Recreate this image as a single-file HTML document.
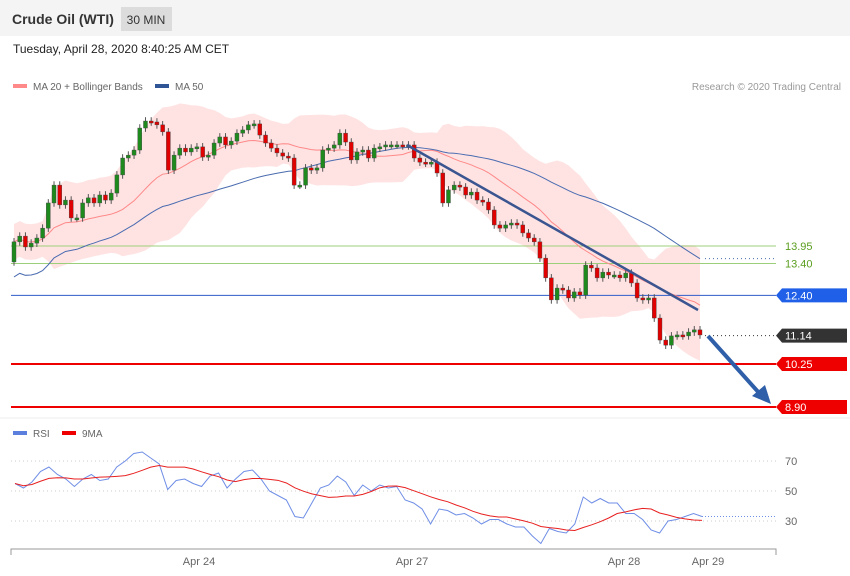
<!DOCTYPE html>
<html><head><meta charset="utf-8"><style>
body{margin:0;background:#fff;font-family:"Liberation Sans",sans-serif}
#wrap{position:relative;width:850px;height:576px;overflow:hidden}
</style></head><body>
<div id="wrap">
<svg id="svg" width="850" height="576" xmlns="http://www.w3.org/2000/svg">
<rect x="0" y="0" width="850" height="36" fill="#f4f4f4"/>
<text x="12" y="24" font-size="14" font-weight="bold" fill="#333">Crude Oil (WTI)</text>
<rect x="121" y="7" width="51" height="24" fill="#dcdcdc"/>
<text x="146" y="24" font-size="12" fill="#333" text-anchor="middle">30 MIN</text>
<text x="13" y="53" font-size="12" fill="#222">Tuesday, April 28, 2020 8:40:25 AM CET</text>
<rect x="13" y="84" width="14" height="4" fill="#f88"/>
<text x="33" y="90" font-size="10" fill="#666">MA 20 + Bollinger Bands</text>
<rect x="155" y="84" width="14" height="4" fill="#2f5597"/>
<text x="175" y="90" font-size="10" fill="#666">MA 50</text>
<text x="841" y="90" font-size="10" fill="#999" text-anchor="end">Research © 2020 Trading Central</text>
<line x1="0" y1="418" x2="850" y2="418" stroke="#eee"/>
<g id="main"></g>
<rect x="13" y="431" width="14" height="4" fill="#5b7fdc"/>
<text x="33" y="437" font-size="10" fill="#666">RSI</text>
<rect x="62" y="431" width="14" height="4" fill="#e00"/>
<text x="82" y="437" font-size="10" fill="#666">9MA</text>
<g id="rsi"></g>
</svg>
</div>
<script>
const closes=[242,236,247,243,238,228,203,185,205,200,218,218,203,198,203,195,200,193,175,158,155,150,128,121,122,125,132,170,155,148,152,148,147,157,155,143,137,145,141,133,130,125,124,135,143,148,153,156,158,185,185,168,170,168,150,148,145,133,142,160,152,150,158,148,147,145,145,145,146,145,158,162,163,162,173,203,190,185,187,195,192,200,202,210,225,228,225,223,225,233,238,242,258,278,300,288,290,298,292,295,265,268,278,272,275,275,278,273,283,298,300,298,318,340,345,336,335,336,332,330,335].map(y=>+(13.95-(y-246)/31.88).toFixed(2));
const firstOpen=[13.45];
const levels=[13.95,13.40,12.40,11.14,10.25,8.90];
const levelLabels=["13.95","13.40","12.40","11.14","10.25","8.90"];
const rsiValues=[55,52,56,63,66,61,58,53,58,61,57,58,66,70,75,76,72,68,51,57,58,55,53,60,62,52,58,63,64,58,50,47,44,33,32,42,52,54,60,56,47,54,50,54,52,53,44,42,38,28,38,37,34,35,32,28,31,31,28,26,26,20,15,25,23,22,28,46,42,45,42,42,35,35,31,24,22,30,31,33,35,33];
const rsiTicks=[70,50,30];
const dateLabels=["Apr 24","Apr 27","Apr 28","Apr 29"];

const NS="http://www.w3.org/2000/svg";
const py=p=>246+(13.95-p)*31.88;
const x0=14,x1=700,n=closes.length;
const cx=i=>x0+i*(x1-x0)/(n-1);
const ry=v=>491-(v-50)*1.5;
function mk(tag,attrs,parent){const e=document.createElementNS(NS,tag);for(const k in attrs)e.setAttribute(k,attrs[k]);parent.appendChild(e);return e;}
const main=document.getElementById('main'),rg=document.getElementById('rsi');

const ma=(w,i)=>{const s=closes.slice(Math.max(0,i-w+1),i+1);return s.reduce((a,b)=>a+b,0)/s.length;};
const sd=(w,i)=>{const s=closes.slice(Math.max(0,i-w+1),i+1);const m=s.reduce((a,b)=>a+b,0)/s.length;return Math.sqrt(s.reduce((a,b)=>a+(b-m)*(b-m),0)/s.length);};
let up=[],dn=[],m20=[],m50=[];
for(let i=0;i<n;i++){const m=ma(20,i),s=Math.max(sd(20,i),0.28);m20.push(m);up.push(m+2*s);dn.push(m-2*s);m50.push(ma(50,i)-(i<50?(50-i)/50*1.1:0));}
let bb="M"+up.map((v,i)=>cx(i)+","+py(v)).join("L")+"L"+dn.map((v,i)=>cx(i)+","+py(v)).reverse().join("L")+"Z";
let e=mk('path',{d:bb,fill:'#ffe3e3',stroke:'none'},main);



const lvColors=['#9ccf7a','#9ccf7a','#2f5cc8','#333','#ee0000','#ee0000'];
const lvWidths=[1,1,1,0,2,2];
levels.forEach((p,k)=>{
 const y=py(p);
 if(lvWidths[k]>0){e=mk('line',{x1:11,x2:776,y1:y,y2:y,stroke:lvColors[k],'stroke-width':lvWidths[k]},main);
 
 }
 else{e=mk('line',{x1:705,x2:776,y1:y,y2:y,stroke:'#333','stroke-dasharray':'1,3'},main);
 
 }
 if(k<2){e=mk('text',{x:785,y:y+4,'font-size':11,fill:'#5a9e1e'},main);e.textContent=levelLabels[k];
 
 }
 else{e=mk('path',{d:`M776,${y}L782,${y-7}H847V${y+7}H782Z`,fill:k==3?'#333':(k==2?'#2060e8':'#ee0000')},main);
 
 
 e=mk('text',{x:785,y:y+4,'font-size':11,fill:'#fff'},main);e.textContent=levelLabels[k];
 
 }
});

e=mk('path',{d:"M"+m20.map((v,i)=>cx(i)+","+py(v)).join("L"),fill:'none',stroke:'#f88','stroke-width':1},main);


e=mk('path',{d:"M"+m50.map((v,i)=>cx(i)+","+py(v)).join("L"),fill:'none',stroke:'#4a6cb0','stroke-width':1},main);


e=mk('line',{x1:705,x2:776,y1:py(m50[n-1]),y2:py(m50[n-1]),stroke:'#4a6cb0','stroke-dasharray':'1,3'},main);



for(let i=0;i<n;i++){
 const o=i?closes[i-1]:firstOpen[0],c=closes[i];
 const hi=Math.max(o,c)+0.12,lo=Math.min(o,c)-0.12;
 const x=cx(i);
 e=mk('line',{x1:x,x2:x,y1:py(hi),y2:py(lo),stroke:'#555','stroke-width':1},main);
 
 
 const t=Math.min(py(o),py(c)),h=Math.max(2,Math.abs(py(o)-py(c)));
 e=mk('rect',{x:x-2,y:t,width:4,height:h,fill:c>=o?'#1e8a1e':'#e00000',stroke:'#444','stroke-width':0.4},main);
 
 
}
e=mk('line',{x1:407,y1:145,x2:698,y2:310,stroke:'#3a5590','stroke-width':2.5},main);


e=mk('line',{x1:708,y1:336,x2:760,y2:394,stroke:'#2e5fa8','stroke-width':4},main);


e=mk('path',{d:'M771,404L752,396L765,385Z',fill:'#2e5fa8'},main);



rsiTicks.forEach(v=>{
 e=mk('line',{x1:11,x2:776,y1:ry(v),y2:ry(v),stroke:'#ccc','stroke-dasharray':'1,3'},rg);
 
 
 e=mk('text',{x:785,y:ry(v)+4,'font-size':11,fill:'#666'},rg);e.textContent=v;
 
 
});
const rx=i=>15+i*(702-15)/(rsiValues.length-1);
e=mk('path',{d:"M"+rsiValues.map((v,i)=>rx(i)+","+ry(v)).join("L"),fill:'none',stroke:'#6f8ee6','stroke-width':1},rg);


const ma9=rsiValues.map((v,i)=>{const s=rsiValues.slice(Math.max(0,i-8),i+1);return s.reduce((a,b)=>a+b,0)/s.length;});
e=mk('path',{d:"M"+ma9.map((v,i)=>rx(i)+","+ry(v)).join("L"),fill:'none',stroke:'#e82020','stroke-width':1},rg);


e=mk('line',{x1:702,x2:776,y1:ry(rsiValues[rsiValues.length-1]),y2:ry(rsiValues[rsiValues.length-1]),stroke:'#6f8ee6','stroke-dasharray':'1,2'},rg);


e=mk('path',{d:'M11,555V549H776V555',fill:'none',stroke:'#999'},rg);


dateLabels.forEach((d,k)=>{
 e=mk('text',{x:[199,412,624,708][k],y:565,'font-size':11,fill:'#666','text-anchor':'middle'},rg);e.textContent=d;
 
 
});
</script>
</body></html>
